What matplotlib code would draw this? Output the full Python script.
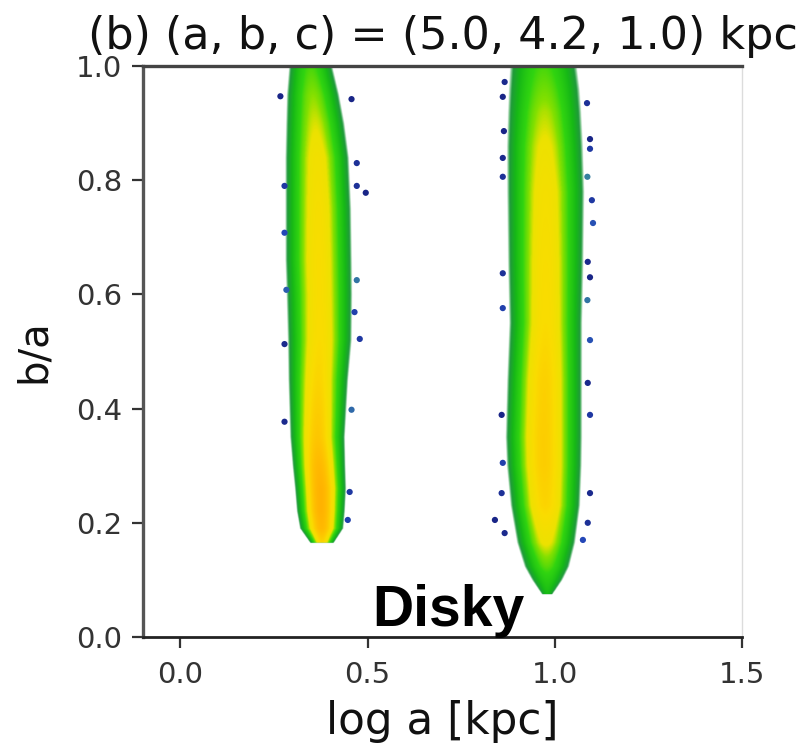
import numpy as np
import matplotlib
matplotlib.use("Agg")
import matplotlib.pyplot as plt
from matplotlib.colors import LinearSegmentedColormap, Normalize

# ---- cloud profiles -------------------------------------------------------
# b/a rows, ridge position (log a), half-width of the populated envelope and
# density level on the ridge (0 = sparse, 1 = densest)
left_ba     = [0.165, 0.19, 0.22, 0.26, 0.30, 0.35, 0.45, 0.52, 0.60, 0.66, 0.75, 0.84, 0.90, 0.95, 1.00]
left_center = [0.378, 0.377, 0.375, 0.374, 0.370, 0.366, 0.368, 0.372, 0.371, 0.369, 0.368, 0.365, 0.360, 0.354, 0.348]
left_hw     = [0.030, 0.055, 0.061, 0.065, 0.067, 0.069, 0.075, 0.080, 0.082, 0.083, 0.082, 0.079, 0.072, 0.064, 0.052]
left_peak   = [0.84, 0.92, 0.94, 0.94, 0.92, 0.88, 0.84, 0.82, 0.81, 0.81, 0.80, 0.78, 0.74, 0.70, 0.64]

right_ba     = [0.075, 0.10, 0.123, 0.165, 0.23, 0.30, 0.35, 0.45, 0.55, 0.65, 0.78, 0.86, 0.92, 0.96, 1.00]
right_center = [0.980, 0.980, 0.979, 0.977, 0.975, 0.972, 0.971, 0.973, 0.976, 0.976, 0.976, 0.974, 0.973, 0.972, 0.970]
right_hw     = [0.012, 0.036, 0.054, 0.072, 0.087, 0.094, 0.096, 0.094, 0.091, 0.094, 0.096, 0.094, 0.090, 0.086, 0.080]
right_peak   = [0.50, 0.58, 0.66, 0.76, 0.84, 0.86, 0.86, 0.85, 0.82, 0.81, 0.79, 0.76, 0.72, 0.68, 0.64]

# sparse outlying galaxies: log a, b/a, density level
left_out_x = [0.267, 0.457, 0.471, 0.471, 0.495, 0.278, 0.278, 0.283, 0.471, 0.465, 0.479, 0.278, 0.278, 0.452, 0.447, 0.457]
left_out_y = [0.947, 0.942, 0.830, 0.790, 0.778, 0.790, 0.708, 0.608, 0.625, 0.569, 0.522, 0.513, 0.377, 0.254, 0.205, 0.398]
left_out_l = [0.05, 0.05, 0.08, 0.08, 0.05, 0.10, 0.14, 0.18, 0.22, 0.12, 0.10, 0.06, 0.06, 0.10, 0.12, 0.20]

right_out_x = [0.866, 0.861, 1.086, 0.864, 1.094, 1.094, 0.861, 0.861, 1.087, 1.099, 1.102, 1.088, 1.094, 0.861,
               1.087, 0.861, 1.094, 1.088, 1.094, 0.858, 0.861, 0.858, 1.094, 0.840, 0.866, 1.088, 1.075]
right_out_y = [0.972, 0.946, 0.935, 0.886, 0.872, 0.855, 0.839, 0.806, 0.806, 0.765, 0.725, 0.657, 0.630, 0.637,
               0.590, 0.576, 0.520, 0.445, 0.389, 0.389, 0.305, 0.252, 0.252, 0.205, 0.182, 0.200, 0.170]
right_out_l = [0.06, 0.05, 0.08, 0.05, 0.05, 0.10, 0.06, 0.08, 0.24, 0.10, 0.16, 0.06, 0.05, 0.08,
               0.22, 0.12, 0.16, 0.06, 0.10, 0.05, 0.12, 0.08, 0.06, 0.05, 0.06, 0.08, 0.14]

x_ticks = [0.0, 0.5, 1.0, 1.5]
y_ticks = [0.0, 0.2, 0.4, 0.6, 0.8, 1.0]

# ---- colour scale ---------------------------------------------------------
density_cmap = LinearSegmentedColormap.from_list(
    "density",
    [(0.00, "#14146e"), (0.14, "#2448b8"), (0.26, "#3a8a9a"), (0.36, "#1f9a3a"),
     (0.48, "#16b816"), (0.62, "#30d410"), (0.70, "#84e000"), (0.75, "#ece200"),
     (0.82, "#fadc00"), (0.90, "#ffc000"), (1.00, "#ffa000")])
norm = Normalize(0.0, 1.0)
edge_level = 0.36
fade = 0.07

# ---- density field --------------------------------------------------------
gx = np.linspace(-0.1, 1.5, 1601)
gy = np.linspace(0.0, 1.0, 1001)
X, Y = np.meshgrid(gx, gy)
level = np.full(X.shape, -1.0)
for ba, cen, hw, pk in [(left_ba, left_center, left_hw, left_peak),
                        (right_ba, right_center, right_hw, right_peak)]:
    c = np.interp(gy, ba, cen)[:, None]
    w = np.interp(gy, ba, hw, left=0.0, right=0.0)[:, None]
    p = np.interp(gy, ba, pk)[:, None]
    inside = w > 0
    r2 = np.where(inside, ((X - c) / np.where(inside, w, 1.0)) ** 2, 1e9)
    lv = p - (p - edge_level) * r2
    level = np.maximum(level, lv)

# colour never drops below the rim colour; the rim just thins out into white
rgba = density_cmap(norm(np.clip(level, edge_level, 1)))
rgba[..., 3] = np.clip((level - (edge_level - fade)) / fade, 0, 1) ** 0.8

# ---- figure ---------------------------------------------------------------
fig = plt.figure(figsize=(8.11, 7.47), dpi=100)
ax = fig.add_axes([143 / 811, 1 - 637 / 747, 599 / 811, 571 / 747])

ax.imshow(rgba, origin="lower", extent=(-0.1, 1.5, 0.0, 1.0), aspect="auto",
          interpolation="bilinear", zorder=1)
ax.scatter(left_out_x + right_out_x, left_out_y + right_out_y,
           c=left_out_l + right_out_l, cmap=density_cmap, norm=norm,
           s=20, linewidths=0, zorder=2)

ax.set_xlim(-0.1, 1.5)
ax.set_ylim(0.0, 1.0)
ax.set_xticks(x_ticks)
ax.set_yticks(y_ticks)
ax.set_xticklabels([f"{v:.1f}" for v in x_ticks])
ax.set_yticklabels([f"{v:.1f}" for v in y_ticks])
ax.tick_params(direction="out", length=8, width=1.6, color="#333333",
               labelsize=21, labelcolor="#333333")
ax.tick_params(axis="x", pad=9)
ax.tick_params(axis="y", pad=7)

for side, col, lw in [("left", "#555555", 2.4), ("top", "#444444", 2.4),
                      ("bottom", "#222222", 2.0), ("right", "#dcdcdc", 1.0)]:
    ax.spines[side].set_color(col)
    ax.spines[side].set_linewidth(lw)

ax.set_title("(b) (a, b, c) = (5.0, 4.2, 1.0) kpc", fontsize=32, pad=12,
             color="#111111")
ax.set_xlabel("log a [kpc]", fontsize=31.5, labelpad=8, color="#111111")
ax.set_ylabel("b/a", fontsize=29, labelpad=16, color="#111111")

ax.text(0.51, 0.02, "Disky", transform=ax.transAxes, ha="center",
        va="baseline", fontsize=41, fontweight="bold",
        family="Liberation Sans", color="black", zorder=3)

fig.savefig("out.png", dpi=100)
